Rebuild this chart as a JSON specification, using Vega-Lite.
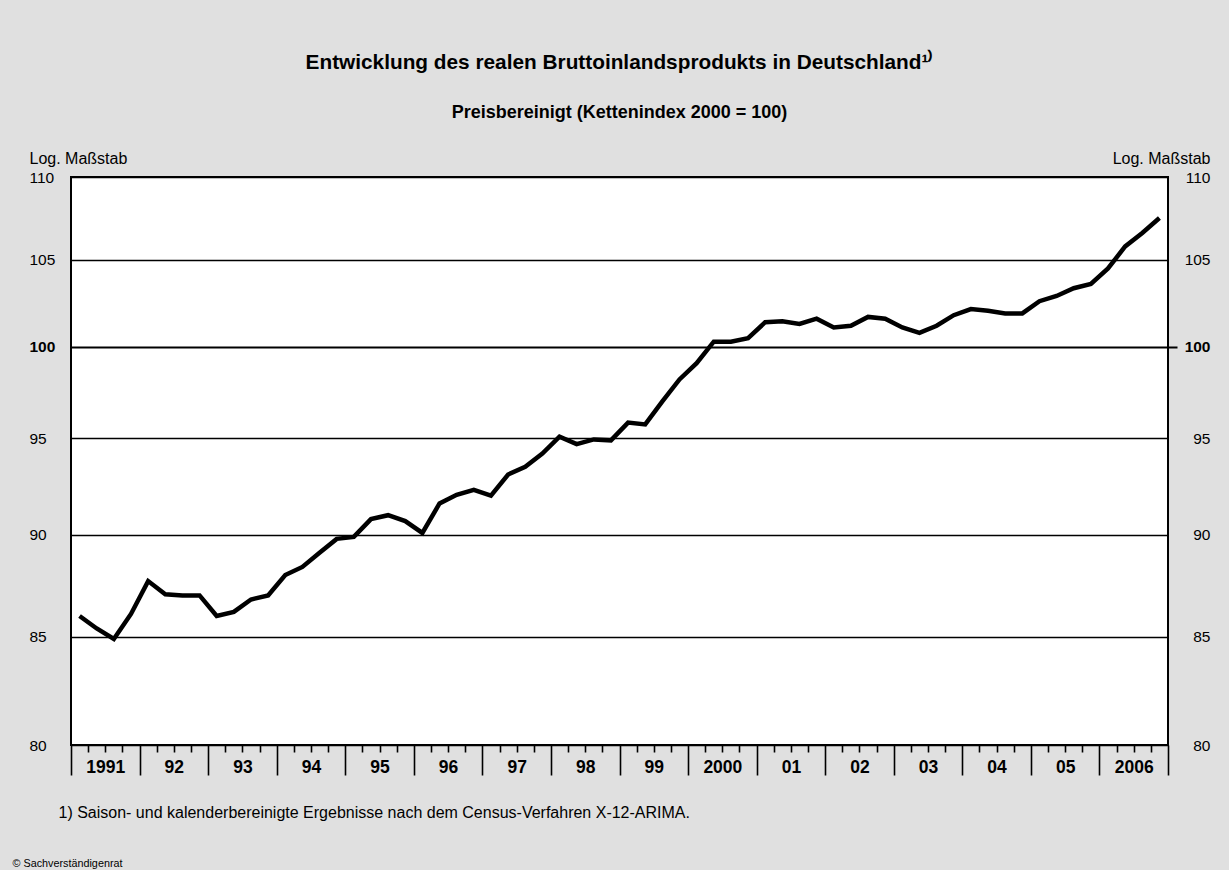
{
  "$schema": "https://vega.github.io/schema/vega-lite/v6.json",
  "width": 1097,
  "height": 568,
  "autosize": {"type": "none"},
  "padding": {"left": 71, "top": 177, "right": 61, "bottom": 125},
  "background": "#e0e0e0",
  "config": {
    "font": "Liberation Sans",
    "view": {"fill": "white", "stroke": "black", "strokeWidth": 2}
  },
  "title": {
    "text": "Entwicklung des realen Bruttoinlandsprodukts in Deutschland¹⁾",
    "subtitle": "Preisbereinigt (Kettenindex 2000 = 100)",
    "anchor": "middle",
    "fontSize": 20.8,
    "fontWeight": "bold",
    "color": "black",
    "subtitleFontSize": 18,
    "subtitleFontWeight": "bold",
    "subtitleColor": "black",
    "subtitlePadding": 30,
    "offset": 27
  },
  "data": {
    "values": [
      {"zeit": 1991.125, "bip": 86.0}, {"zeit": 1991.375, "bip": 85.4}, {"zeit": 1991.625, "bip": 84.9}, {"zeit": 1991.875, "bip": 86.1},
      {"zeit": 1992.125, "bip": 87.7}, {"zeit": 1992.375, "bip": 87.05}, {"zeit": 1992.625, "bip": 87.0}, {"zeit": 1992.875, "bip": 87.0},
      {"zeit": 1993.125, "bip": 86.0}, {"zeit": 1993.375, "bip": 86.2}, {"zeit": 1993.625, "bip": 86.8}, {"zeit": 1993.875, "bip": 87.0},
      {"zeit": 1994.125, "bip": 88.0}, {"zeit": 1994.375, "bip": 88.4}, {"zeit": 1994.625, "bip": 89.1}, {"zeit": 1994.875, "bip": 89.8},
      {"zeit": 1995.125, "bip": 89.9}, {"zeit": 1995.375, "bip": 90.8}, {"zeit": 1995.625, "bip": 91.0}, {"zeit": 1995.875, "bip": 90.7},
      {"zeit": 1996.125, "bip": 90.1}, {"zeit": 1996.375, "bip": 91.6}, {"zeit": 1996.625, "bip": 92.05}, {"zeit": 1996.875, "bip": 92.3},
      {"zeit": 1997.125, "bip": 92.0}, {"zeit": 1997.375, "bip": 93.1}, {"zeit": 1997.625, "bip": 93.5}, {"zeit": 1997.875, "bip": 94.2},
      {"zeit": 1998.125, "bip": 95.1}, {"zeit": 1998.375, "bip": 94.7}, {"zeit": 1998.625, "bip": 94.95}, {"zeit": 1998.875, "bip": 94.9},
      {"zeit": 1999.125, "bip": 95.85}, {"zeit": 1999.375, "bip": 95.75}, {"zeit": 1999.625, "bip": 97.0}, {"zeit": 1999.875, "bip": 98.2},
      {"zeit": 2000.125, "bip": 99.1}, {"zeit": 2000.375, "bip": 100.3}, {"zeit": 2000.625, "bip": 100.3}, {"zeit": 2000.875, "bip": 100.5},
      {"zeit": 2001.125, "bip": 101.4}, {"zeit": 2001.375, "bip": 101.45}, {"zeit": 2001.625, "bip": 101.3}, {"zeit": 2001.875, "bip": 101.6},
      {"zeit": 2002.125, "bip": 101.1}, {"zeit": 2002.375, "bip": 101.2}, {"zeit": 2002.625, "bip": 101.7}, {"zeit": 2002.875, "bip": 101.6},
      {"zeit": 2003.125, "bip": 101.1}, {"zeit": 2003.375, "bip": 100.8}, {"zeit": 2003.625, "bip": 101.2}, {"zeit": 2003.875, "bip": 101.8},
      {"zeit": 2004.125, "bip": 102.15}, {"zeit": 2004.375, "bip": 102.05}, {"zeit": 2004.625, "bip": 101.9}, {"zeit": 2004.875, "bip": 101.9},
      {"zeit": 2005.125, "bip": 102.6}, {"zeit": 2005.375, "bip": 102.9}, {"zeit": 2005.625, "bip": 103.35}, {"zeit": 2005.875, "bip": 103.6},
      {"zeit": 2006.125, "bip": 104.5}, {"zeit": 2006.375, "bip": 105.8}, {"zeit": 2006.625, "bip": 106.6}, {"zeit": 2006.875, "bip": 107.5}
    ]
  },
  "layer": [
    {
      "mark": {"type": "line", "color": "black", "strokeWidth": 4.5},
      "encoding": {
        "x": {
          "field": "zeit",
          "type": "quantitative",
          "scale": {"domain": [1991, 2007], "nice": false, "zero": false},
          "axis": {
            "orient": "bottom",
            "values": [1991, 1991.25, 1991.5, 1991.75, 1992, 1992.25, 1992.5, 1992.75, 1993, 1993.25, 1993.5, 1993.75, 1994, 1994.25, 1994.5, 1994.75, 1995, 1995.25, 1995.5, 1995.75, 1996, 1996.25, 1996.5, 1996.75, 1997, 1997.25, 1997.5, 1997.75, 1998, 1998.25, 1998.5, 1998.75, 1999, 1999.25, 1999.5, 1999.75, 2000, 2000.25, 2000.5, 2000.75, 2001, 2001.25, 2001.5, 2001.75, 2002, 2002.25, 2002.5, 2002.75, 2003, 2003.25, 2003.5, 2003.75, 2004, 2004.25, 2004.5, 2004.75, 2005, 2005.25, 2005.5, 2005.75, 2006, 2006.25, 2006.5, 2006.75, 2007],
            "domain": false,
            "grid": false,
            "ticks": true,
            "tickColor": "black",
            "tickWidth": 1.6,
            "tickSize": {"condition": {"test": "datum.value % 1 == 0", "value": 30}, "value": 7},
            "labelExpr": "datum.value % 1 == 0.5 ? ((floor(datum.value) == 1991 || floor(datum.value) == 2000 || floor(datum.value) == 2006) ? '' + floor(datum.value) : slice('' + floor(datum.value), 2)) : ''",
            "labelFontSize": 17.5,
            "labelFontWeight": "bold",
            "labelColor": "black",
            "labelBaseline": "alphabetic",
            "labelPadding": 20,
            "labelOverlap": false,
            "labelFlush": false,
            "labelBound": false,
            "title": "1) Saison- und kalenderbereinigte Ergebnisse nach dem Census-Verfahren X-12-ARIMA.",
            "titleAnchor": "start",
            "titleAlign": "left",
            "titleBaseline": "alphabetic",
            "titleX": -13,
            "titleY": 72,
            "titleFontSize": 16,
            "titleFontWeight": "normal",
            "titleColor": "black"
          }
        },
        "y": {
          "field": "bip",
          "type": "quantitative",
          "scale": {"type": "log", "domain": [80, 110], "nice": false},
          "axis": {
            "orient": "left",
            "values": [80, 85, 90, 95, 100, 105, 110],
            "grid": true,
            "gridColor": "black",
            "gridOpacity": 1,
            "gridWidth": {"condition": {"test": "datum.value == 100", "value": 2.2}, "value": 1.4},
            "domain": false,
            "ticks": false,
            "labelAlign": "left",
            "labelBaseline": "middle",
            "labelPadding": 42,
            "labelFontSize": 15.5,
            "labelColor": "black",
            "labelFontWeight": {"condition": {"test": "datum.value == 100", "value": "bold"}, "value": "normal"},
            "title": "Log. Maßstab",
            "titleAngle": 0,
            "titleAlign": "left",
            "titleBaseline": "alphabetic",
            "titleX": -42,
            "titleY": -14,
            "titleFontSize": 16,
            "titleFontWeight": "normal",
            "titleColor": "black"
          }
        }
      }
    },
    {
      "mark": {"type": "line", "color": "black", "opacity": 0},
      "encoding": {
        "x": {
          "field": "zeit",
          "type": "quantitative",
          "scale": {"domain": [1991, 2007], "nice": false, "zero": false},
          "axis": {
            "orient": "bottom",
            "domain": false,
            "grid": false,
            "ticks": false,
            "labels": false,
            "title": "© Sachverständigenrat",
            "titleAnchor": "start",
            "titleAlign": "left",
            "titleBaseline": "alphabetic",
            "titleX": -59,
            "titleY": 121,
            "titleFontSize": 10.8,
            "titleFontWeight": "normal",
            "titleColor": "black"
          }
        },
        "y": {
          "field": "bip",
          "type": "quantitative",
          "scale": {"type": "log", "domain": [80, 110], "nice": false},
          "axis": {
            "orient": "right",
            "values": [80, 85, 90, 95, 100, 105, 110],
            "grid": false,
            "domain": false,
            "ticks": true,
            "tickSize": 9,
            "tickWidth": 2,
            "tickColor": "black",
            "tickOpacity": {"condition": {"test": "datum.value == 100", "value": 1}, "value": 0},
            "labelAlign": "right",
            "labelBaseline": "middle",
            "labelPadding": 33,
            "labelFontSize": 15.5,
            "labelColor": "black",
            "labelFontWeight": {"condition": {"test": "datum.value == 100", "value": "bold"}, "value": "normal"},
            "title": "Log. Maßstab",
            "titleAngle": 0,
            "titleAlign": "right",
            "titleBaseline": "alphabetic",
            "titleX": 42,
            "titleY": -14,
            "titleFontSize": 16,
            "titleFontWeight": "normal",
            "titleColor": "black"
          }
        }
      }
    }
  ],
  "resolve": {"axis": {"x": "independent", "y": "independent"}}
}
